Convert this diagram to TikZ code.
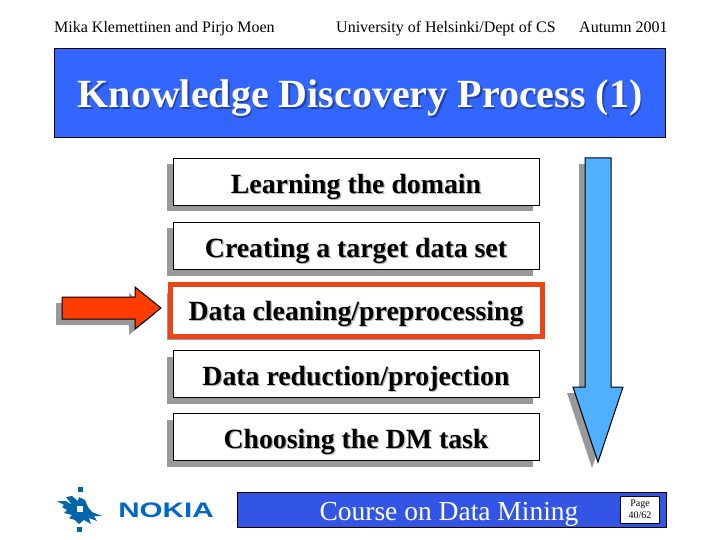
\documentclass[tikz,border=0pt]{standalone}
\usepackage{fontspec}
\setmainfont{Liberation Serif}
\newfontfamily\logofont{Liberation Sans}
\definecolor{bannerblue}{RGB}{51,102,255}
\definecolor{footerblue}{RGB}{51,85,230}
\definecolor{skyblue}{RGB}{80,175,255}
\definecolor{alertred}{RGB}{255,60,0}
\definecolor{framered}{RGB}{235,70,20}
\definecolor{shadowgray}{RGB}{153,153,153}
\definecolor{flameblue}{RGB}{0,102,170}
\definecolor{nokiablue}{RGB}{0,102,204}
\newcommand{\softshadow}[2]{\makebox[0pt][l]{\hspace{#2}\raisebox{-#2}{\textcolor{shadowgray!70}{#1}}}#1}
\newcommand{\darkshadow}[2]{\makebox[0pt][l]{\hspace{#2}\raisebox{-#2}{\textcolor{black!35!bannerblue}{#1}}}\textcolor{white}{#1}}
\tikzset{
  stepbox/.style={draw=black,fill=white,line width=1pt,minimum width=366pt,minimum height=47pt,inner sep=0pt},
  steptext/.style={font=\fontsize{27.8}{32}\selectfont\bfseries,inner sep=0pt,anchor=base},
  headline/.style={font=\fontsize{16}{19}\selectfont,inner sep=0pt,anchor=base west},
}
\begin{document}
\begin{tikzpicture}[x=1pt,y=-1pt]
    \useasboundingbox (0,0) rectangle (720,540);
    % header
    \node[headline] (authors) at (54,32.6) {Mika Klemettinen and Pirjo Moen};
    \node[headline] (dept) at (336,32.6) {University of Helsinki/Dept of CS};
    \node[headline] (term) at (579,32.6) {Autumn 2001};
    \node[draw=black,fill=bannerblue,line width=0.8pt,minimum width=611pt,minimum height=89pt,inner sep=0pt] (banner) at (359.5,92.5) {};
    \node[font=\fontsize{40}{46}\selectfont\bfseries,inner sep=0pt,anchor=base] (title) at (360,108) {\darkshadow{Knowledge Discovery Process (1)}{1.5pt}};
    % shadows of the boxes
    \foreach \y in {182,246,310,374,437} {
      \fill[shadowgray] (167,\y+-17.5) rectangle (533,\y+29.5);
    }
    % steps
    \node[stepbox] (domain) at (356,182) {};
    \node[stepbox] (target) at (356,246) {};
    \node[stepbox,draw=framered,line width=5pt,minimum width=372pt,minimum height=52pt] (cleaning) at (356,310) {};
    \node[stepbox] (reduction) at (356,374) {};
    \node[stepbox] (task) at (356,437) {};
    \node[steptext] (domaintext) at (356,193.4) {\softshadow{Learning the domain}{1.2pt}};
    \node[steptext] (targettext) at (356,257) {\softshadow{Creating a target data set}{1.2pt}};
    \node[steptext] (cleaningtext) at (356,320.4) {\softshadow{Data cleaning/preprocessing}{1.2pt}};
    \node[steptext] (reductiontext) at (356,385) {\softshadow{Data reduction/projection}{1.2pt}};
    \node[steptext] (tasktext) at (356,448) {\softshadow{Choosing the DM task}{1.2pt}};
    % side arrow
    \fill[shadowgray] (56,303) -- (129,303) -- (129,293) -- (155,314) -- (129,335) -- (129,325) -- (56,325) -- cycle;
    \draw[fill=alertred,line width=1pt] (62,297) -- (135,297) -- (135,287) -- (161,308) -- (135,329) -- (135,319) -- (62,319) -- cycle;
    % process arrow
    \fill[shadowgray] (579,164) -- (605,164) -- (605,393) -- (617,393) -- (592,468) -- (567,393) -- (579,393) -- cycle;
    \draw[fill=skyblue,line width=1pt] (585,158) -- (611,158) -- (611,387) -- (623,387) -- (598,462) -- (573,387) -- (585,387) -- cycle;
    % footer
    \node[draw=black,fill=footerblue,line width=0.8pt,minimum width=429pt,minimum height=35pt,inner sep=0pt] (footer) at (451.5,509.5) {};
    \node[font=\fontsize{27.5}{32}\selectfont,text=white,inner sep=0pt,anchor=base] (course) at (449,520) {Course on Data Mining};
    \node[draw=black,fill=white,line width=0.8pt,minimum width=39pt,minimum height=27pt,inner sep=0pt,align=center,
      font=\fontsize{10}{12}\selectfont] (page) at (640,509.5) {Page\\40/62};
    % logos
    \fill[flameblue] (78,487) rectangle (83,492);
    \fill[flameblue] (77,527) rectangle (82,532);
    \fill[flameblue] (57,501) -- (66,501) -- (72,505) -- (66,497) -- (72,496) -- (78,501) -- (79,497) -- (85,500) -- (88,507)
      -- (92,512) -- (102,516) -- (94,516) -- (97,521) -- (89,518) -- (91,524) -- (84,520) -- (79,524) -- (75,520)
      -- (69,518) -- (72,515) -- (64,513) -- (67,510) -- (62,507) -- (64,505) -- cycle;
    \fill[white] (77,506) rectangle (83,512);
    \node[font=\logofont\fontsize{21}{24}\selectfont\bfseries,text=nokiablue,inner sep=0pt] (nokia) at (166,510) {\scalebox{1.41}[1]{NOKIA}};
\end{tikzpicture}
\end{document}
